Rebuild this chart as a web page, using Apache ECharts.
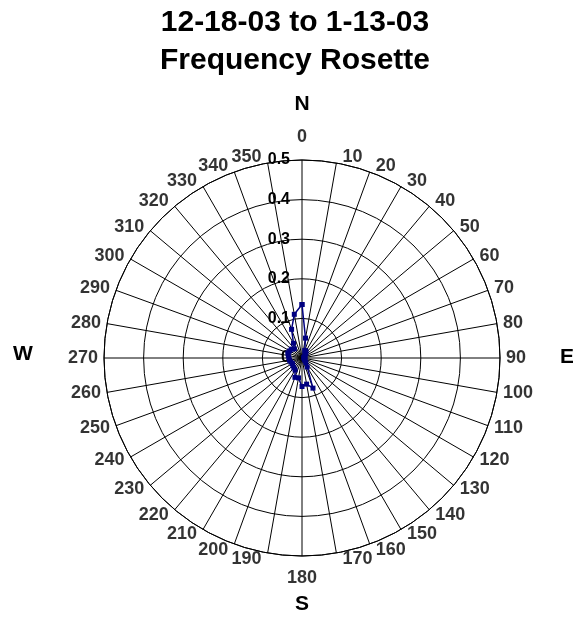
<!DOCTYPE html>
<html>
<head>
<meta charset="utf-8">
<script src="https://cdn.jsdelivr.net/npm/echarts@6/dist/echarts.min.js"></script>
<style>
  html, body { margin: 0; background: #fff; }
  #chart { width: 573px; height: 621px; }
</style>
</head>
<body>
<div id="chart"></div>
<script>
// wind directions (degrees) and the share of readings from each
const directions = [0, 10, 20, 30, 40, 50, 60, 70, 80, 90, 100, 110, 120, 130, 140, 150, 160, 170,
  180, 190, 200, 210, 220, 230, 240, 250, 260, 270, 280, 290, 300, 310, 320, 330, 340, 350]
const frequency = [0.135, 0.051, 0.02, 0.02, 0.015, 0.01, 0.008, 0.006, 0.005, 0.005, 0.006, 0.007,
  0.008, 0.01, 0.015, 0.026, 0.081, 0.067, 0.072, 0.051, 0.052, 0.035, 0.032, 0.03, 0.028, 0.03,
  0.032, 0.033, 0.035, 0.038, 0.036, 0.035, 0.03, 0.043, 0.077, 0.112]
const radiusTicks = [0, 0.1, 0.2, 0.3, 0.4, 0.5]
const compass = ['N', 'E', 'S', 'W']

const chart = echarts.init(document.getElementById('chart'))

// close the loop: last point goes back to north
const points = directions.map((d, i) => [frequency[i], d])
points.push([frequency[0], 360])

const font = 'Arial, "Liberation Sans", sans-serif'
const rMax = radiusTicks[radiusTicks.length - 1]

// angle labels sit beside the rim like excel does it (left/right of the point, not along the ray)
const angleLabels = directions.map(d => {
  const c = Math.cos(d * Math.PI / 180)
  let label
  if (d === 0) label = { position: 'top', distance: 14 }
  else if (d === 180) label = { position: 'bottom', distance: 13 }
  else label = { position: d < 180 ? 'right' : 'left', distance: 6, offset: [0, -Math.round(6 * c)] }
  return { value: [rMax, d], label }
})

chart.setOption({
  animation: false,
  title: {
    text: '12-18-03 to 1-13-03\nFrequency Rosette',
    left: 290,
    top: -1,
    textAlign: 'center',
    textStyle: { fontFamily: font, fontSize: 30, fontWeight: 'bold', color: '#000', lineHeight: 38 }
  },
  polar: { center: [302, 358], radius: 198 },
  angleAxis: {
    type: 'value',
    min: 0,
    max: 360,
    interval: 10,
    startAngle: 90,
    clockwise: true,
    axisLine: { lineStyle: { color: '#000', width: 1 } },
    axisTick: { show: false },
    splitLine: { lineStyle: { color: '#000', width: 1 } },
    axisLabel: { show: false }
  },
  radiusAxis: {
    min: radiusTicks[0],
    max: rMax,
    interval: 0.1,
    axisLine: { show: false },
    axisTick: { show: false },
    splitLine: { lineStyle: { color: '#000', width: 1 } },
    axisLabel: {
      margin: 12,
      fontFamily: font,
      fontSize: 16,
      fontWeight: 'bold',
      color: '#000',
      formatter: v => String(+v.toFixed(1))
    }
  },
  graphic: [
    { type: 'text', x: 302, y: 104, style: { text: compass[0], align: 'center', verticalAlign: 'middle', font: 'bold 21px ' + font, fill: '#000' } },
    { type: 'text', x: 567, y: 357, style: { text: compass[1], align: 'center', verticalAlign: 'middle', font: 'bold 21px ' + font, fill: '#000' } },
    { type: 'text', x: 302, y: 604, style: { text: compass[2], align: 'center', verticalAlign: 'middle', font: 'bold 21px ' + font, fill: '#000' } },
    { type: 'text', x: 23, y: 354, style: { text: compass[3], align: 'center', verticalAlign: 'middle', font: 'bold 21px ' + font, fill: '#000' } }
  ],
  series: [
    {
      // direction labels around the rim
      type: 'scatter',
      coordinateSystem: 'polar',
      silent: true,
      symbolSize: 0,
      data: angleLabels,
      itemStyle: { color: 'transparent' },
      label: {
        show: true,
        formatter: p => String(p.value[1]),
        fontFamily: font,
        fontSize: 18,
        fontWeight: 'bold',
        color: '#000'
      }
    },
    {
      type: 'line',
      coordinateSystem: 'polar',
      data: points,
      symbol: 'rect',
      symbolSize: 5,
      color: '#000080',
      lineStyle: { color: '#000080', width: 1.5 },
      itemStyle: { color: '#000080' }
    }
  ]
})
</script>
</body>
</html>
